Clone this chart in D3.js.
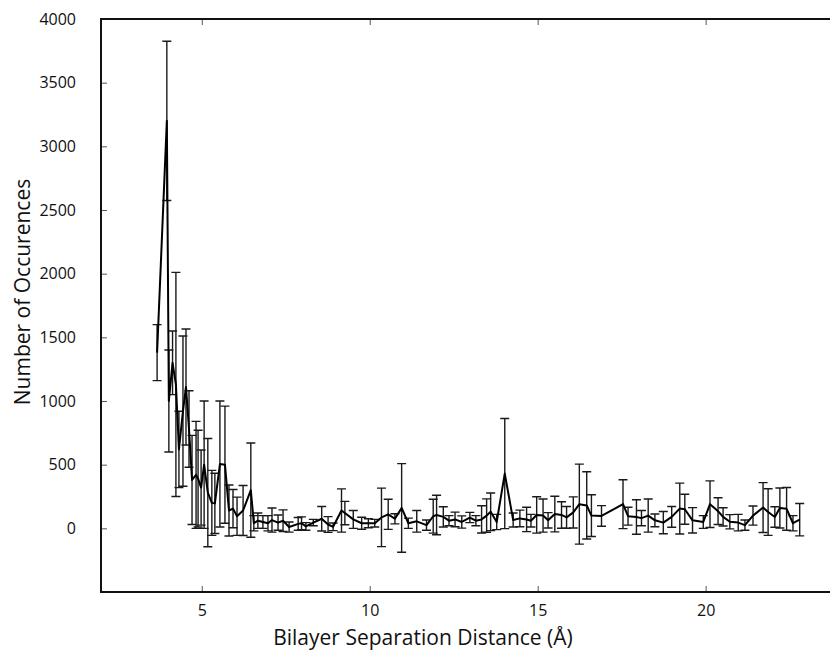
<!DOCTYPE html>
<html>
<head>
<meta charset="utf-8">
<script src="https://cdnjs.cloudflare.com/ajax/libs/d3/7.8.5/d3.min.js"></script>
<style>
  body { margin: 0; background: #fff; }
  svg { font-family: "Open Sans", sans-serif; }
</style>
</head>
<body>
<svg width="830" height="651"></svg>
<script>
// separation distance (A)
var distance = [3.67, 3.96, 4.02, 4.13, 4.23, 4.32, 4.44, 4.53, 4.62, 4.71,
  4.83, 4.89, 4.98, 5.07, 5.18, 5.30, 5.39, 5.54, 5.69, 5.81,
  5.93, 6.05, 6.23, 6.46, 6.55, 6.67, 6.82, 6.97, 7.09, 7.27,
  7.42, 7.60, 7.87, 7.97, 8.10, 8.32, 8.57, 8.76, 8.91, 9.16,
  9.26, 9.51, 9.76, 9.96, 10.15, 10.35, 10.55, 10.75, 10.95, 11.15,
  11.40, 11.69, 11.89, 11.99, 12.19, 12.36, 12.54, 12.74, 12.98, 13.16,
  13.33, 13.48, 13.60, 13.78, 14.02, 14.27, 14.47, 14.67, 14.80, 14.97,
  15.16, 15.31, 15.51, 15.71, 15.86, 16.06, 16.24, 16.46, 16.60, 16.90,
  17.54, 17.69, 17.94, 18.09, 18.29, 18.49, 18.74, 18.99, 19.23, 19.38,
  19.61, 19.93, 20.13, 20.37, 20.52, 20.72, 20.97, 21.17, 21.41, 21.71,
  21.86, 22.06, 22.21, 22.41, 22.60, 22.80];

// mean number of occurences
var occurences = [1380, 3200, 1000, 1300, 1130, 620, 920, 1110, 780, 380,
  420, 390, 320, 500, 280, 200, 196, 505, 500, 140,
  155, 95, 140, 300, 40, 60, 50, 40, 65, 45,
  60, 10, 35, 40, 15, 45, 75, 30, 12, 140,
  120, 70, 40, 40, 40, 86, 110, 75, 160, 40,
  55, 25, 95, 105, 90, 60, 70, 50, 85, 60,
  70, 100, 130, 50, 430, 65, 78, 70, 60, 105,
  100, 63, 112, 105, 86, 125, 190, 180, 100, 97,
  190, 95, 89, 80, 100, 63, 45, 90, 155, 150,
  63, 50, 190, 135, 90, 52, 45, 25, 100, 163,
  128, 89, 160, 153, 40, 68];

// standard deviation (error bar half height)
var deviation = [220, 625, 400, 250, 880, 300, 590, 455, 300, 350,
  420, 380, 295, 500, 425, 255, 237, 495, 460, 200,
  150, 150, 196, 370, 60, 60, 50, 60, 95, 60,
  85, 40, 50, 50, 30, 25, 96, 62, 30, 170,
  92, 70, 47, 35, 30, 230, 118, 40, 348, 40,
  85, 40, 133, 155, 80, 40, 57, 48, 40, 40,
  107, 131, 148, 60, 432, 55, 65, 96, 50, 143,
  130, 60, 140, 104, 85, 122, 314, 264, 164, 81,
  192, 70, 136, 60, 130, 50, 87, 81, 200, 118,
  100, 50, 183, 105, 72, 56, 65, 40, 75, 196,
  183, 80, 157, 168, 60, 127];

var xTicks = [5, 10, 15, 20];
var yTicks = [0, 500, 1000, 1500, 2000, 2500, 3000, 3500, 4000];

var data = distance.map(function(d, i) {
  return { x: d, y: occurences[i], e: deviation[i] };
});

var svg = d3.select("svg");
var plotLeft = 101, plotTop = 19, plotRight = 840, plotBottom = 592;

var x = d3.scaleLinear().domain([2, 24]).range([plotLeft, plotRight]);
var y = d3.scaleLinear().domain([-500, 4000]).range([plotBottom, plotTop]);

// frame ticks (inward, on all sides)
svg.append("g")
  .attr("transform", "translate(0," + plotBottom + ")")
  .call(d3.axisBottom(x).tickValues(xTicks).tickSizeInner(-6).tickSizeOuter(0).tickPadding(13))
  .call(function(g) { g.select(".domain").remove(); });
svg.append("g")
  .attr("transform", "translate(0," + plotTop + ")")
  .call(d3.axisTop(x).tickValues(xTicks).tickSizeInner(-6).tickSizeOuter(0).tickFormat(""))
  .call(function(g) { g.select(".domain").remove(); });
svg.append("g")
  .attr("transform", "translate(" + plotLeft + ",0)")
  .call(d3.axisLeft(y).tickValues(yTicks).tickFormat(d3.format("d"))
    .tickSizeInner(-6).tickSizeOuter(0).tickPadding(25))
  .call(function(g) { g.select(".domain").remove(); });

svg.selectAll(".tick line").attr("stroke", "#555").attr("stroke-width", 1);
svg.selectAll(".tick text")
  .attr("fill", "#111")
  .style("font-family", "'Open Sans', sans-serif")
  .style("font-size", "16px");

svg.append("rect")
  .attr("x", plotLeft).attr("y", plotTop)
  .attr("width", plotRight - plotLeft).attr("height", plotBottom - plotTop)
  .attr("fill", "none").attr("stroke", "#111").attr("stroke-width", 2);

// error bars
var bars = svg.append("g")
  .attr("stroke", "#1a1a1a")
  .attr("stroke-width", 1.4)
  .attr("fill", "none");

bars.selectAll(".ebar")
  .data(data)
  .enter().append("path")
    .attr("class", "ebar")
    .attr("d", function(d) {
      var cx = x(d.x), y0 = y(d.y - d.e), y1 = y(d.y + d.e), w = 4.5;
      return "M" + cx + "," + y0 + "V" + y1 +
             "M" + (cx - w) + "," + y1 + "H" + (cx + w) +
             "M" + (cx - w) + "," + y0 + "H" + (cx + w);
    });

// mean line
var line = d3.line()
  .x(function(d) { return x(d.x); })
  .y(function(d) { return y(d.y); });

svg.append("path")
  .datum(data)
  .attr("d", line)
  .attr("fill", "none")
  .attr("stroke", "#000")
  .attr("stroke-width", 2)
  .attr("stroke-linejoin", "round");

// axis titles
svg.append("text")
  .attr("x", 423).attr("y", 645)
  .attr("text-anchor", "middle")
  .attr("fill", "#111")
  .style("font-size", "21px")
  .text("Bilayer Separation Distance (Å)");

svg.append("text")
  .attr("transform", "translate(30,292) rotate(-90)")
  .attr("text-anchor", "middle")
  .attr("fill", "#111")
  .style("font-size", "21px")
  .text("Number of Occurences");
</script>
</body>
</html>
